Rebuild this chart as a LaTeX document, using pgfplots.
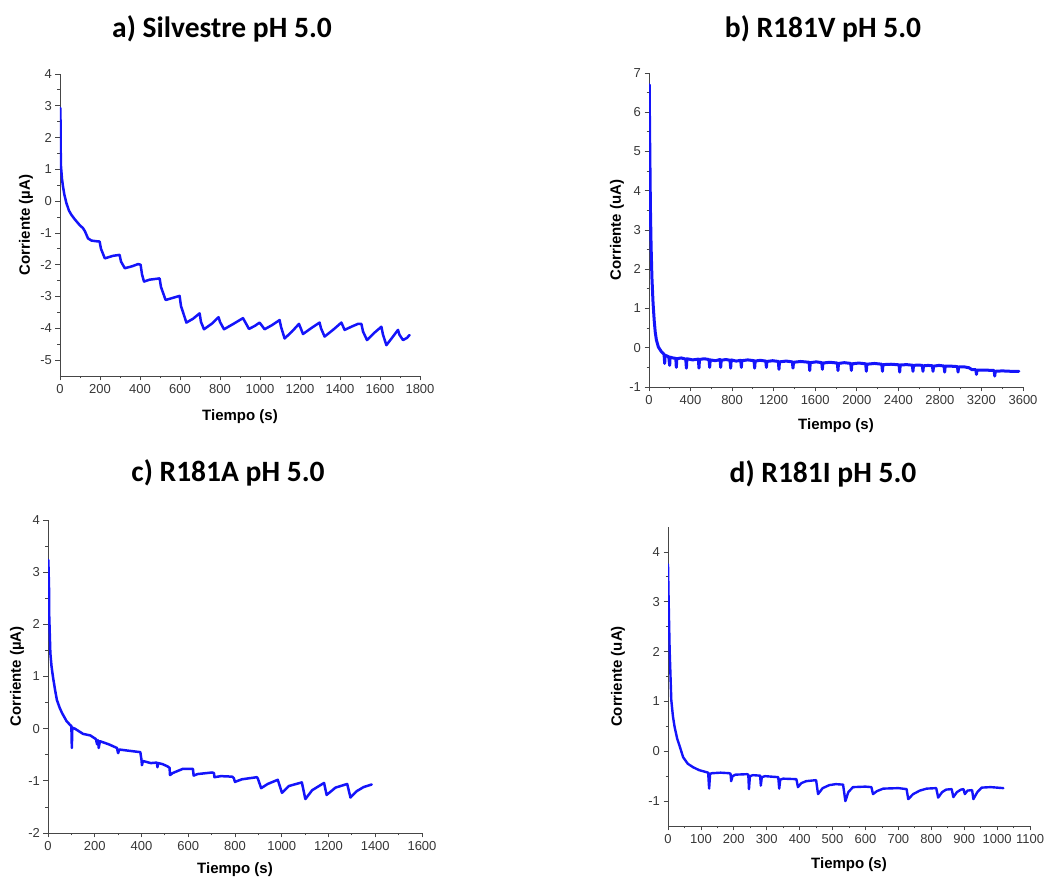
\documentclass[border=0pt]{standalone}
\usepackage{pgfplots}
\pgfplotsset{compat=1.18}
\usepackage{fontspec}
\setmainfont{Liberation Sans}
\newfontfamily\carlito{Carlito}
\definecolor{axgrey}{RGB}{70,70,70}
\definecolor{tickgrey}{RGB}{55,55,55}
\definecolor{curve}{RGB}{20,20,250}
\pgfplotsset{
  panel/.style={
    scale only axis, axis lines*=left,
    axis line style={draw=axgrey, line width=0.9pt},
    tick style={draw=axgrey, line width=0.8pt},
    tick align=outside, major tick length=4.5pt, minor tick length=2.5pt,
    minor x tick num=1, minor y tick num=1,
    tick label style={font=\fontsize{13}{15}\selectfont, text=tickgrey},
    label style={font=\fontsize{15}{17}\selectfont\bfseries, text=black},
    /pgf/number format/assume math mode=true,
    /pgf/number format/1000 sep={},
    scaled ticks=false,
    x label style={at={(axis description cs:0.5,0)}, anchor=center},
    y label style={at={(axis description cs:0,0.5)}, anchor=center},
  },
  curve/.style={draw=curve, line width=2.5pt, line join=round, line cap=round, mark=none},
}
\begin{document}
\begin{tikzpicture}
\path[use as bounding box] (0,0) rectangle (1045pt,878pt);
% titles
\node[font=\carlito\bfseries\fontsize{29.5}{32}\selectfont] at (222pt,849pt) {a) Silvestre pH 5.0};
\node[font=\carlito\bfseries\fontsize{29.5}{32}\selectfont] at (823pt,849pt) {b) R181V pH 5.0};
\node[font=\carlito\bfseries\fontsize{29.5}{32}\selectfont] at (228pt,405pt) {c) R181A pH 5.0};
\node[font=\carlito\bfseries\fontsize{29.5}{32}\selectfont] at (823pt,404pt) {d) R181I pH 5.0};

% a
\begin{axis}[panel, at={(60pt,502pt)}, width=360pt, height=302pt,
  xmin=0, xmax=1800, ymin=-5.5, ymax=4,
  xtick={0,200,...,1800}, ytick={-5,-4,...,4},
  xlabel={Tiempo (s)}, ylabel={Corriente (µA)},
  x label style={yshift=-41pt}, y label style={yshift=34pt}]
\addplot[curve] coordinates {
(2,2.93)(3,2.2)(3.5,1.6)(5,1.09)(10,0.7)(15,0.46)(22,0.2)(32,-0.06)(45,-0.3)(57,-0.43)
(75,-0.58)(98,-0.75)(115,-0.85)(125,-0.95)(140,-1.17)(157,-1.24)(180,-1.26)(198,-1.27)
(205,-1.5)(224,-1.8)(265,-1.72)(298,-1.69)(305,-1.9)(324,-2.11)(360,-2.05)(390,-1.98)
(403,-2.0)(410,-2.3)(420,-2.53)(448,-2.47)(498,-2.43)(505,-2.7)(528,-3.11)(560,-3.05)
(598,-2.98)(605,-3.3)(632,-3.82)(665,-3.7)(698,-3.53)(705,-3.8)(720,-4.03)(760,-3.85)
(793,-3.65)(800,-3.8)(820,-4.03)(870,-3.85)(915,-3.68)(945,-4.02)(975,-3.92)(998,-3.82)
(1023,-4.03)(1060,-3.9)(1098,-3.74)(1105,-3.95)(1123,-4.32)(1160,-4.1)(1195,-3.86)
(1215,-4.18)(1255,-4.0)(1298,-3.82)(1305,-4.0)(1323,-4.26)(1365,-4.05)(1407,-3.82)
(1423,-4.05)(1457,-3.95)(1490,-3.86)(1507,-3.86)(1515,-4.1)(1535,-4.37)(1570,-4.15)
(1607,-3.95)(1615,-4.2)(1632,-4.53)(1660,-4.3)(1690,-4.05)(1697,-4.2)(1715,-4.37)
(1735,-4.3)(1748,-4.21)
};
\end{axis}

% b
\begin{axis}[panel, at={(649pt,491pt)}, width=374pt, height=314pt,
  xmin=0, xmax=3600, ymin=-1, ymax=7,
  xtick={0,400,...,3600}, ytick={-1,0,...,7},
  xlabel={Tiempo (s)}, ylabel={Corriente (uA)},
  x label style={yshift=-39pt}, y label style={yshift=32pt}]
\addplot[curve, line width=3pt] coordinates {
(3,6.7)(5,5.8)(8,5.0)(11,4.2)(14,3.5)(20,2.6)(28,1.8)(39,1.14)(50,0.7)(60,0.4)(71,0.2)
(90,0.02)(119,-0.1)(145,-0.17)(151,-0.4)(155,-0.19)(190,-0.23)(199,-0.45)(203,-0.24)
(230,-0.26)(258,-0.27)(263,-0.5)(268,-0.28)(310,-0.26)(354,-0.29)(360,-0.52)(365,-0.28)
(420,-0.31)(475,-0.29)(481,-0.52)(486,-0.3)(530,-0.28)(578,-0.3)(584,-0.5)(589,-0.31)
(640,-0.33)(684,-0.3)(690,-0.5)(695,-0.32)(740,-0.3)(780,-0.32)(786,-0.52)(791,-0.31)
(840,-0.34)(883,-0.32)(889,-0.5)(894,-0.33)(950,-0.31)(1011,-0.33)(1017,-0.52)(1022,-0.34)
(1070,-0.32)(1124,-0.34)(1130,-0.5)(1135,-0.35)(1190,-0.33)(1245,-0.35)(1251,-0.55)
(1256,-0.36)(1320,-0.34)(1380,-0.36)(1386,-0.52)(1391,-0.37)(1460,-0.35)(1541,-0.37)
(1547,-0.58)(1552,-0.38)(1610,-0.36)(1663,-0.38)(1669,-0.55)(1674,-0.39)(1740,-0.37)
(1813,-0.39)(1819,-0.58)(1824,-0.4)(1880,-0.38)(1942,-0.4)(1948,-0.58)(1953,-0.41)
(2020,-0.39)(2086,-0.41)(2092,-0.6)(2097,-0.42)(2170,-0.4)(2241,-0.42)(2247,-0.6)
(2252,-0.43)(2330,-0.42)(2407,-0.435)(2413,-0.62)(2418,-0.44)(2480,-0.43)(2535,-0.445)
(2541,-0.6)(2546,-0.45)(2590,-0.44)(2631,-0.45)(2637,-0.6)(2642,-0.46)(2690,-0.45)
(2728,-0.46)(2734,-0.6)(2739,-0.47)(2790,-0.45)(2840,-0.465)(2846,-0.62)(2851,-0.47)
(2910,-0.47)(2969,-0.48)(2975,-0.62)(2980,-0.49)(3040,-0.49)(3080,-0.51)(3110,-0.56)
(3146,-0.56)(3152,-0.68)(3157,-0.57)(3240,-0.57)(3322,-0.58)(3328,-0.72)(3333,-0.6)
(3400,-0.59)(3480,-0.6)(3560,-0.6)
};
\end{axis}

% c
\begin{axis}[panel, at={(48pt,45pt)}, width=374pt, height=313pt,
  xmin=0, xmax=1600, ymin=-2, ymax=4,
  xtick={0,200,...,1600}, ytick={-2,-1,...,4},
  xlabel={Tiempo (s)}, ylabel={Corriente (µA)},
  x label style={yshift=-37pt}, y label style={yshift=31pt}]
\addplot[curve] coordinates {
(2,3.23)(3,2.3)(4,2.9)(5,2.2)(7,1.9)(10,1.45)(15,1.2)(21,1.0)(30,0.75)(38,0.55)(50,0.4)
(60,0.3)(80,0.14)(95,0.07)(100,0.05)(102,-0.37)(104,0.02)(115,0.0)(150,-0.1)(181,-0.13)
(205,-0.2)(210,-0.3)(214,-0.22)(217,-0.37)(222,-0.24)(260,-0.3)(295,-0.37)(300,-0.47)
(305,-0.4)(340,-0.42)(395,-0.45)(400,-0.6)(402,-0.7)(406,-0.62)(440,-0.66)(466,-0.65)
(468,-0.74)(472,-0.66)(490,-0.68)(500,-0.7)(510,-0.72)(520,-0.75)(522,-0.89)(534,-0.85)
(550,-0.82)(577,-0.77)(620,-0.77)(623,-0.9)(640,-0.87)(702,-0.84)(710,-0.85)(712,-0.93)
(740,-0.91)(788,-0.92)(795,-0.95)(800,-1.02)(830,-0.97)(894,-0.93)(898,-0.96)(912,-1.14)
(940,-1.06)(983,-0.98)(1001,-1.23)(1030,-1.1)(1086,-1.03)(1101,-1.35)(1130,-1.18)
(1181,-1.04)(1192,-1.27)(1230,-1.13)(1280,-1.06)(1294,-1.32)(1320,-1.2)(1350,-1.12)
(1385,-1.07)
};
\end{axis}

% d
\begin{axis}[panel, at={(668pt,52pt)}, width=362pt, height=299pt,
  xmin=0, xmax=1100, ymin=-1.5, ymax=4.5,
  xtick={0,100,...,1100}, ytick={-1,0,...,4},
  xlabel={Tiempo (s)}, ylabel={Corriente (uA)},
  x label style={yshift=-39pt}, y label style={yshift=50pt}]
\addplot[curve, line width=2.4pt] coordinates {
(0,3.75)(2,3.0)(5,2.03)(10,1.03)(15,0.7)(20,0.49)(28,0.25)(36,0.09)(46,-0.12)(60,-0.25)
(76,-0.32)(95,-0.38)(117,-0.42)(122,-0.43)(125,-0.75)(128,-0.45)(135,-0.44)(160,-0.43)
(185,-0.44)(190,-0.45)(192,-0.6)(196,-0.5)(205,-0.47)(240,-0.46)(244,-0.47)(246,-0.76)
(249,-0.5)(258,-0.48)(280,-0.49)(282,-0.69)(285,-0.52)(295,-0.5)(335,-0.52)(338,-0.75)
(341,-0.57)(350,-0.55)(390,-0.56)(395,-0.72)(405,-0.64)(420,-0.6)(450,-0.58)(456,-0.86)
(470,-0.74)(490,-0.68)(510,-0.66)(532,-0.67)(539,-1.0)(548,-0.82)(562,-0.72)(600,-0.71)
(618,-0.72)(623,-0.86)(635,-0.8)(654,-0.75)(700,-0.74)(725,-0.76)(730,-0.96)(745,-0.86)
(765,-0.79)(786,-0.75)(815,-0.74)(821,-0.93)(833,-0.82)(845,-0.77)(862,-0.76)(867,-0.92)
(878,-0.82)(890,-0.77)(898,-0.76)(902,-0.86)(910,-0.79)(924,-0.78)(928,-0.96)(940,-0.82)
(953,-0.73)(980,-0.72)(1000,-0.73)(1019,-0.74)
};
\end{axis}
\end{tikzpicture}
\end{document}
